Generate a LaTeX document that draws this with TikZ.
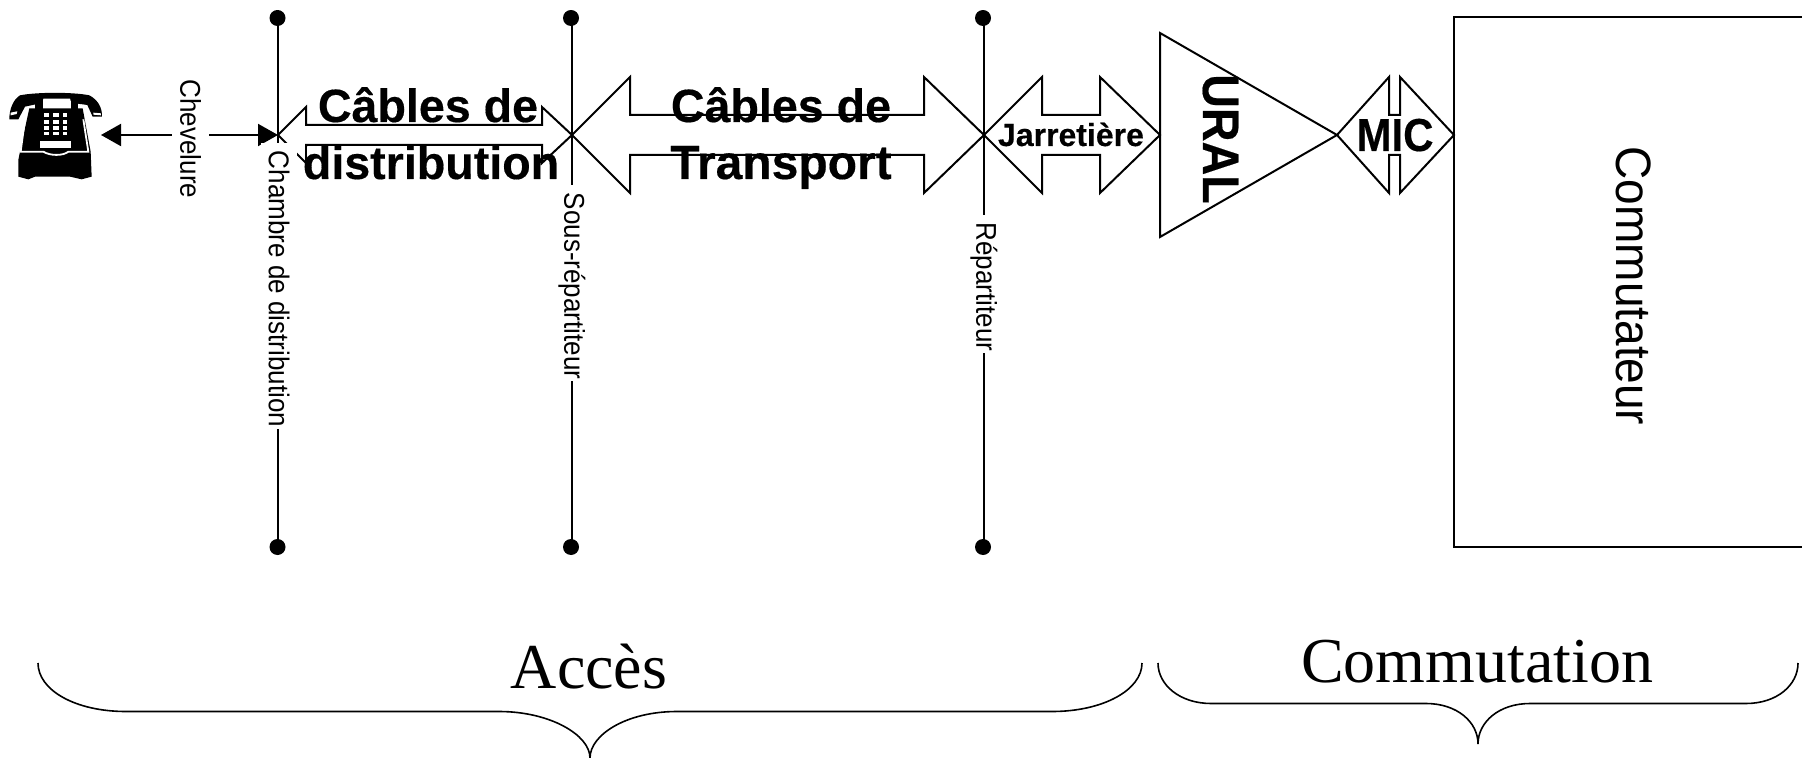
\documentclass[tikz,border=0pt]{standalone}
\usepackage{fontspec}
\setmainfont[BoldFeatures={FakeBold=0.35}]{Liberation Sans}
\newfontfamily\timesf{Liberation Serif}
\usetikzlibrary{arrows.meta}
\tikzset{
 shapeline/.style={draw=black,line width=1pt,fill=none,line join=miter},
 vline/.style={draw=black,line width=1pt},
 dotnode/.style={circle,fill=black,draw=none,minimum size=8pt,inner sep=0pt},
 sidelabel/.style={font=\fontsize{13}{13}\selectfont,rotate=-90,yscale=1.1,fill=white,inner xsep=1pt,inner ysep=0pt,minimum height=16.8pt,text=black},
 boldtext/.style={font=\fontsize{23.3}{23.3}\selectfont\bfseries,inner sep=0pt,anchor=base},
 bigserif/.style={font=\timesf\fontsize{32}{32}\selectfont,inner sep=0pt,anchor=base},
 bracepath/.style={draw=black,line width=.8pt},
}
\newcommand{\dblarrow}[7]{%
 \draw[shapeline] (#1,#7) -- (#2,#7-#5) -- (#2,#7-#6) -- (#3,#7-#6) -- (#3,#7-#5) -- (#4,#7)
   -- (#3,#7+#5) -- (#3,#7+#6) -- (#2,#7+#6) -- (#2,#7+#5) -- cycle;}
\begin{document}
\begin{tikzpicture}[x=.5pt,y=-.5pt]
\useasboundingbox (0,0) rectangle (1802,758);
\fill[white] (0,0) rectangle (1802,758);

% dots and vertical lines
\begin{scope}
\clip (0,10.5) rectangle (1802,555);
\node[dotnode] (t1) at (277.5,18) {};
\node[dotnode] (t2) at (571,18) {};
\node[dotnode] (t3) at (983,18) {};
\node[dotnode] (b1) at (277.5,547) {};
\node[dotnode] (b2) at (571,547) {};
\node[dotnode] (b3) at (983,547) {};
\end{scope}
\draw[vline] (278,18) -- (278,547);
\draw[vline] (572,18) -- (572,547);
\draw[vline] (984,18) -- (984,547);

% arrows
\dblarrow{278}{306}{542}{572}{28}{10}{135}
\dblarrow{572}{630}{924}{984}{58}{20}{135}
\dblarrow{984}{1042}{1100}{1160}{58}{20}{135}
\dblarrow{1337}{1389}{1400}{1454}{58}{20}{135}
\draw[shapeline] (1160,33) -- (1337,135) -- (1160,237) -- cycle;
\draw[shapeline] (1454,17.5) -- (1810,17.5) -- (1810,547) -- (1454,547) -- cycle;

% chevelure
\coordinate (phoneR) at (101,135);
\coordinate (ch) at (278,135);
\draw[line width=1pt,{Triangle[length=10pt,width=11pt]}-{Triangle[length=10pt,width=11pt]}] (phoneR) -- (ch);

% labels on lines
\node[sidelabel] (chev) at (190.5,139) {Chevelure};
\node[sidelabel] (cham) at (279,286) {\hspace*{3pt}Chambre de distribution};
\node[sidelabel] (sous) at (572,283) {\hspace*{3pt}Sous-répartiteur};
\node[sidelabel] (rep) at (984,284) {\hspace*{3pt}Répartiteur};

% bold labels
\fill[white] (307,147) rectangle (541,186);
\node[boldtext] (cab1) at (428,122) {Câbles de};
\node[boldtext] (cab2) at (431,179) {distribution};
\node[boldtext] (tr1) at (781,122) {Câbles de};
\node[boldtext,font=\fontsize{24}{24}\selectfont\bfseries] (tr2) at (781,179) {Transport};
\node[boldtext,font=\fontsize{16}{16}\selectfont\bfseries] (jar) at (1071,146) {Jarretière};
\node[boldtext,font=\fontsize{21}{21}\selectfont\bfseries,yscale=1.1] (mic) at (1395,151) {MIC};
\node[boldtext,rotate=-90,anchor=base,yscale=1.1] (ural) at (1203,139) {URAL};
\node[boldtext,rotate=-90,anchor=base,font=\fontsize{23}{23}\selectfont,yscale=1.08] (comm) at (1616,286) {Commutateur};

% braces
\draw[bracepath] (38,663) .. controls (38,690) and (75,711.5) .. (126,711.5) -- (499,711.5)
  .. controls (550,711.5) and (590,735) .. (590,758) .. controls (590,735) and (626,711.5) .. (677,711.5)
  -- (1052,711.5) .. controls (1103,711.5) and (1142,690) .. (1142,663);
\draw[bracepath] (1158,663) .. controls (1158,685) and (1180,703.5) .. (1211,703.5) -- (1426,703.5)
  .. controls (1457,703.5) and (1478,722) .. (1478,744) .. controls (1478,722) and (1499,703.5) .. (1530,703.5)
  -- (1746,703.5) .. controls (1777,703.5) and (1798,685) .. (1798,663);
\node[bigserif] (acc) at (589,688) {Accès};
\node[bigserif] (com) at (1477,682) {Commutation};

% telephone
\begin{scope}[shift={(0,80)},x=.5pt/3,y=-.5pt/3]
 \fill[black] (28,118) .. controls (28,90) and (38,60) .. (60,46) .. controls (110,36) and (220,36) .. (268,46)
   .. controls (295,60) and (307,85) .. (306,110) -- (278,110) -- (262,75) -- (212,68) -- (130,68) -- (75,80) -- (55,118) -- cycle;
 \fill[white] (130,56) -- (210,56) -- (216,75) -- (128,75) -- cycle;
 \fill[white] (32,98) -- (52,94) -- (50,102) -- (32,106) -- cycle;
 \fill[white] (280,98) -- (303,100) -- (303,106) -- (280,104) -- cycle;
 \fill[black] (105,55) rectangle (130,95);
 \fill[black] (212,55) rectangle (235,95);
 \fill[black] (88,85) -- (248,85) -- (272,215) -- (275,290) -- (245,298) -- (210,290) -- (105,290) -- (85,298) -- (55,290) -- (55,240) -- (65,190) -- cycle;
 \draw[white,line width=.9pt] (75,118) -- (62,215) -- (130,215) .. controls (150,228) and (190,228) .. (205,215) -- (265,215) -- (250,118);
 \foreach \yy/\hh in {99/12,119/12,138/11,155/11}{
   \fill[white] (133,\yy) rectangle ++(13,\hh);
   \fill[white] (158,\yy) rectangle ++(20,\hh);
   \fill[white] (190,\yy) rectangle ++(12,\hh);
 }
 \fill[white] (120,183) rectangle (213,204);
\end{scope}
\end{tikzpicture}
\end{document}
